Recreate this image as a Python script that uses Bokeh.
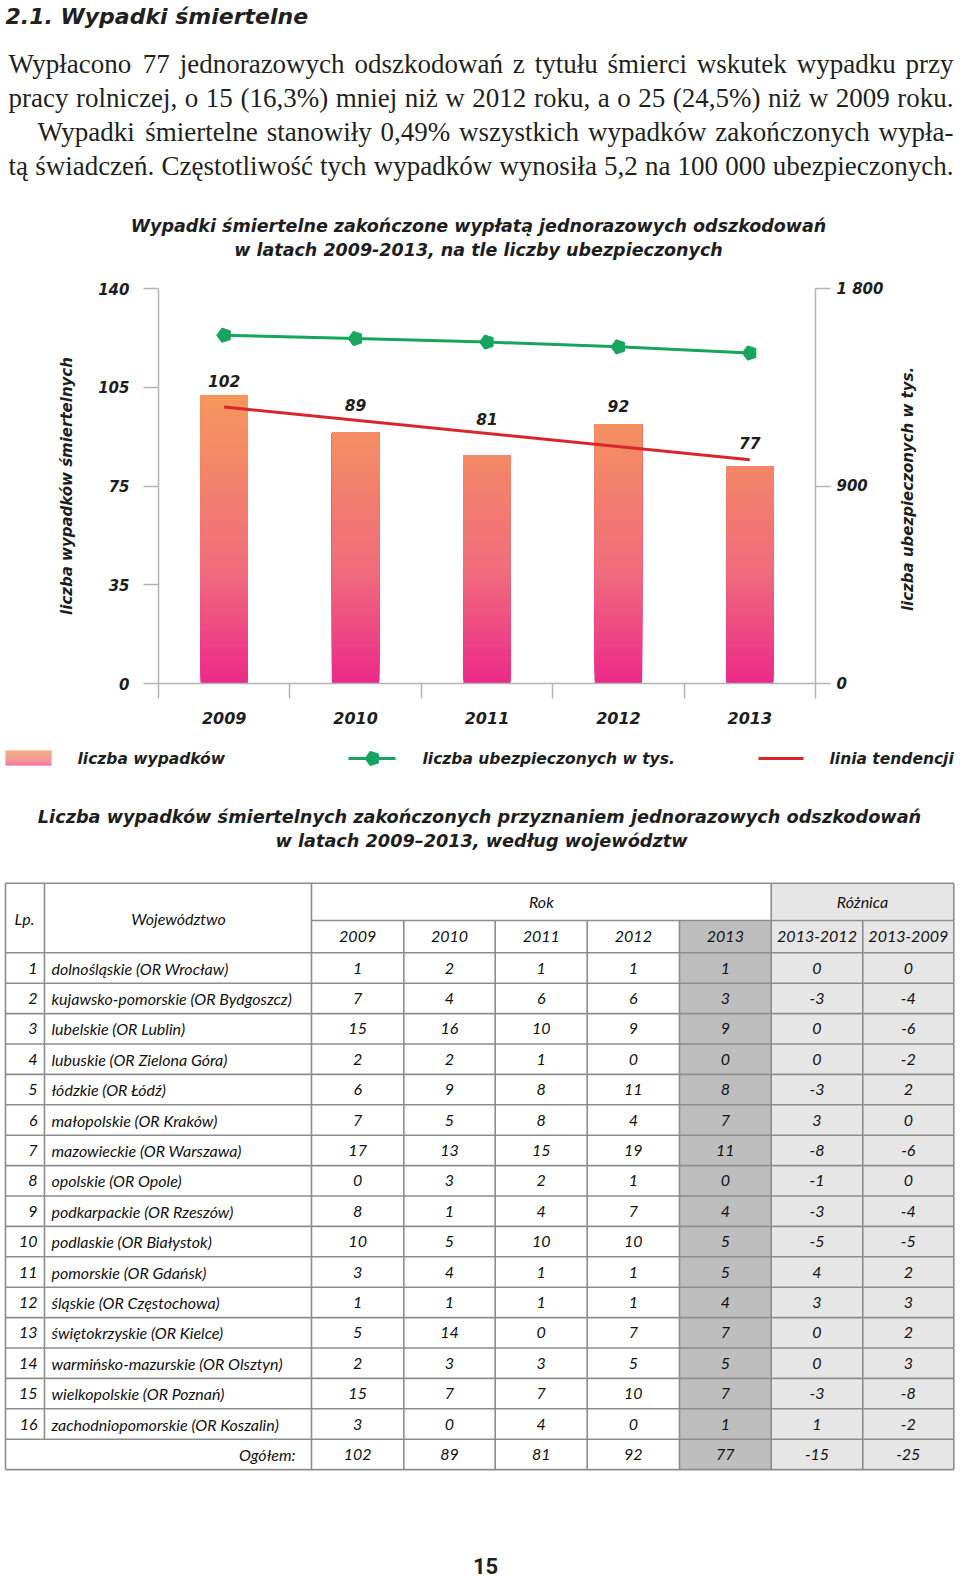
import math
from bokeh.plotting import figure
from bokeh.models import Range1d, LinearAxis, FixedTicker
from bokeh.layouts import column
from bokeh.core.properties import value
from bokeh.embed import file_html
from bokeh.resources import INLINE

# ---------------- data ----------------
years = [2009, 2010, 2011, 2012, 2013]
accidents = [102, 89, 81, 92, 77]
insured_thousands = [1587, 1572, 1556, 1534, 1506]
trend_years = [2009, 2013]
trend_values = [98.0, 79.3]
left_ticks = [0, 35, 70, 105, 140]
left_tick_labels = ["0", "35", "75", "105", "140"]
right_ticks = [0, 900, 1800]
right_tick_labels = ["0", "900", "1 800"]

provinces = [
    "dolnośląskie (OR Wrocław)", "kujawsko-pomorskie (OR Bydgoszcz)", "lubelskie (OR Lublin)",
    "lubuskie (OR Zielona Góra)", "łódzkie (OR Łódź)", "małopolskie (OR Kraków)",
    "mazowieckie (OR Warszawa)", "opolskie (OR Opole)", "podkarpackie (OR Rzeszów)",
    "podlaskie (OR Białystok)", "pomorskie (OR Gdańsk)", "śląskie (OR Częstochowa)",
    "świętokrzyskie (OR Kielce)", "warmińsko-mazurskie (OR Olsztyn)", "wielkopolskie (OR Poznań)",
    "zachodniopomorskie (OR Koszalin)",
]
v2009 = [1, 7, 15, 2, 6, 7, 17, 0, 8, 10, 3, 1, 5, 2, 15, 3]
v2010 = [2, 4, 16, 2, 9, 5, 13, 3, 1, 5, 4, 1, 14, 3, 7, 0]
v2011 = [1, 6, 10, 1, 8, 8, 15, 2, 4, 10, 1, 1, 0, 3, 7, 4]
v2012 = [1, 6, 9, 0, 11, 4, 19, 1, 7, 10, 1, 1, 7, 5, 10, 0]
v2013 = [1, 3, 9, 0, 8, 7, 11, 0, 4, 5, 5, 4, 7, 5, 7, 1]
diff_2013_2012 = [0, -3, 0, 0, -3, 3, -8, -1, -3, -5, 4, 3, 0, 0, -3, 1]
diff_2013_2009 = [0, -4, -6, -2, 2, 0, -6, 0, -4, -5, 2, 3, 2, 3, -8, -2]
totals = [102, 89, 81, 92, 77, -15, -25]
table_col_headers = ["2009", "2010", "2011", "2012", "2013", "2013-2012", "2013-2009"]

heading = "2.1. Wypadki śmiertelne"
paragraph_lines = [
    "Wypłacono 77 jednorazowych odszkodowań z tytułu śmierci wskutek wypadku przy",
    "pracy rolniczej, o 15 (16,3%) mniej niż w 2012 roku, a o 25 (24,5%) niż w 2009 roku.",
    "Wypadki śmiertelne stanowiły 0,49% wszystkich wypadków zakończonych wypła-",
    "tą świadczeń. Częstotliwość tych wypadków wynosiła 5,2 na 100 000 ubezpieczonych.",
]
chart_title = ["Wypadki śmiertelne zakończone wypłatą jednorazowych odszkodowań",
               "w latach 2009-2013, na tle liczby ubezpieczonych"]
left_axis_title = "liczba wypadków śmiertelnych"
right_axis_title = "liczba ubezpieczonych w tys."
table_title = ["Liczba wypadków śmiertelnych zakończonych przyznaniem jednorazowych odszkodowań",
               "w latach 2009–2013, według województw"]
legend_labels = ["liczba wypadków", "liczba ubezpieczonych w tys.", "linia tendencji"]
page_number = "15"

# ---------------- styles ----------------
W = 960
SANS = "DejaVu Sans"
TXT = "#1e1e1e"
GREEN = "#17a55e"
RED = "#d8262b"
AXIS = "#b4b4b4"
GRID_T = "#8d8d8d"
DARK_CELL = "#bebebf"
LIGHT_CELL = "#e6e6e7"
STOPS = [(0, (236, 41, 138)), (40, (240, 108, 124)), (105, (246, 153, 90))]


def grad(v):
    for (a, ca), (b, cb) in zip(STOPS[:-1], STOPS[1:]):
        if v <= b:
            t = max(0.0, (v - a) / (b - a))
            c = [round(ca[i] + (cb[i] - ca[i]) * t) for i in range(3)]
            return "#%02x%02x%02x" % tuple(c)
    return "#%02x%02x%02x" % STOPS[-1][1]


def no_align(p):
    try:
        p.frame_align = False
    except Exception:
        pass


def base_fig(h, x_range, y_range):
    p = figure(width=W, height=h, x_range=x_range, y_range=y_range,
               output_backend="svg", toolbar_location=None, title=None,
               x_axis_location=None, y_axis_location=None,
               min_border=0, min_border_left=0, min_border_right=0,
               min_border_top=0, min_border_bottom=0)
    p.xgrid.visible = False
    p.ygrid.visible = False
    p.outline_line_color = None
    p.background_fill_color = "white"
    p.border_fill_color = "white"
    no_align(p)
    return p


def blank(h):
    return base_fig(h, Range1d(0, W), Range1d(h, 0))


def txt(p, x, y, s, size, font=SANS, style="bold italic", align="left",
        baseline="middle", color=TXT, **kw):
    p.text(x=[x], y=[y], text=[s], text_font=value(font), text_font_style=style,
           text_font_size=size, text_align=align, text_baseline=baseline, text_color=color, **kw)


def pentagons(p, xs, ys, r, color, **kw):
    try:
        p.ngon(x=xs, y=ys, radius=r, radius_units="screen", n=5, angle=math.pi / 2,
               fill_color=color, line_color=color, **kw)
    except Exception:
        p.scatter(x=xs, y=ys, marker="hex", size=2 * r, fill_color=color,
                  line_color=color, **kw)


# Times-like advance widths (1/1000 em) for justification
TW = {" ": 250, "%": 833, "(": 333, ")": 333, ",": 250, "-": 333, ".": 250, ":": 278,
      "W": 944, "C": 667, "P": 556,
      "a": 444, "b": 500, "c": 444, "d": 500, "e": 444, "f": 333, "g": 500, "h": 500,
      "i": 278, "j": 278, "k": 500, "l": 278, "m": 778, "n": 500, "o": 500, "p": 500,
      "q": 500, "r": 333, "s": 389, "t": 278, "u": 500, "v": 500, "w": 722, "x": 500,
      "y": 500, "z": 444}
PL = {"ą": "a", "ć": "c", "ę": "e", "ł": "l", "ń": "n", "ó": "o", "ś": "s", "ź": "z", "ż": "z"}


def word_width(w, size):
    tot = 0
    for ch in w:
        ch = PL.get(ch, ch)
        tot += 500 if ch.isdigit() else TW.get(ch, 500)
    return tot * size / 1000.0


# ---------------- figure A: heading + paragraph + chart title ----------------
HA = 262
pa = blank(HA)
txt(pa, 5, 16, heading, "22px", color="#231f20")

BODY_SIZE = 27
line_specs = [(8, 953, 63.5), (8, 953, 97.5), (37, 953, 131.5), (8, 953, 165.5)]
for line, (xl, xr, yc) in zip(paragraph_lines, line_specs):
    words = line.split(" ")
    widths = [word_width(w, BODY_SIZE) for w in words]
    gap = (xr - xl - sum(widths)) / (len(words) - 1)
    xs, aligns = [], []
    x = xl
    for i, w in enumerate(words):
        if i == len(words) - 1:
            xs.append(xr)
            aligns.append("right")
        else:
            xs.append(x)
            aligns.append("left")
        x += widths[i] + gap
    pa.text(x=xs, y=[yc] * len(words), text=words, text_font=value("Liberation Serif"),
            text_font_size="%dpx" % BODY_SIZE, text_align=aligns, text_baseline="middle",
            text_color="#231f20")

txt(pa, 478, 225.5, chart_title[0], "17.5px", align="center")
txt(pa, 478, 249.5, chart_title[1], "17.5px", align="center")

# ---------------- figure B: chart ----------------
HB = 478
AX_L, AX_R = 158, 815           # pixel columns of the two value axes
AX_TOP, AX_BOT = 26, 421        # pixel rows of the value-axis ends inside figure B
YEAR_LO, YEAR_HI = years[0] - 0.5, years[-1] + 0.5
LMAX, RMAX = left_ticks[-1], right_ticks[-1]
ppx = (AX_R - AX_L) / (YEAR_HI - YEAR_LO)
ppy = (AX_BOT - AX_TOP) / LMAX
y_lo, y_hi = -(HB - AX_BOT) / ppy, LMAX + AX_TOP / ppy
pb = base_fig(HB, Range1d(YEAR_LO - AX_L / ppx, YEAR_HI + (W - AX_R) / ppx), Range1d(y_lo, y_hi))
pb.extra_y_ranges = {"ins": Range1d(y_lo * RMAX / LMAX, y_hi * RMAX / LMAX)}


def style_axis(ax, size):
    ax.axis_line_color = AXIS
    ax.axis_line_width = 1.5
    ax.major_tick_line_color = AXIS
    ax.major_tick_line_width = 1.5
    ax.minor_tick_line_color = AXIS
    ax.minor_tick_line_width = 1.5
    ax.major_label_text_font = SANS
    ax.major_label_text_font_style = "bold italic"
    ax.major_label_text_font_size = size
    ax.major_label_text_color = TXT
    ax.axis_label_text_font = SANS
    ax.axis_label_text_font_style = "bold italic"
    ax.axis_label_text_font_size = "15px"
    ax.axis_label_text_color = TXT
    ax.minor_tick_in = 0
    ax.major_tick_in = 0


bx = LinearAxis(bounds=(YEAR_LO, YEAR_HI), fixed_location=0)
style_axis(bx, "16px")
bx.ticker = FixedTicker(ticks=years, minor_ticks=[y - 0.5 for y in years] + [YEAR_HI])
bx.major_label_overrides = {y: str(y) for y in years}
bx.major_tick_out = 0
bx.minor_tick_out = 15
bx.major_label_standoff = 13
pb.add_layout(bx, "below")

ly = LinearAxis(fixed_location=YEAR_LO, bounds=(0, LMAX))
style_axis(ly, "15px")
ly.ticker = FixedTicker(ticks=left_ticks)
ly.major_label_overrides = {t: s for t, s in zip(left_ticks, left_tick_labels)}
ly.major_tick_out = 15
ly.minor_tick_out = 0
ly.major_label_standoff = 14
ly.axis_label = left_axis_title
ly.axis_label_standoff = 19
pb.add_layout(ly, "left")

ry = LinearAxis(y_range_name="ins", fixed_location=YEAR_HI, bounds=(0, RMAX))
style_axis(ry, "15px")
ry.ticker = FixedTicker(ticks=right_ticks)
ry.major_label_overrides = {t: s for t, s in zip(right_ticks, right_tick_labels)}
ry.major_tick_out = 15
ry.minor_tick_out = 0
ry.major_label_standoff = 6
pb.add_layout(ry, "right")

# right axis title, reading upward
txt(pb, YEAR_HI, LMAX / 2, right_axis_title, "15px", align="center", angle=math.pi / 2,
    x_offset=92, y_offset=3)

# gradient bars: layered slices from each bar's data value
STEP = 1.0
bxs, bbs, bts, bcs = [], [], [], []
for yr, v in zip(years, accidents):
    k = 0.0
    while k < v:
        bxs.append(yr)
        bbs.append(k)
        bts.append(v)
        bcs.append(grad(k + STEP / 2))
        k += STEP
pb.vbar(x=bxs, bottom=bbs, top=bts, width=0.36, fill_color=bcs, line_color=None)

# insured line
pb.line(x=years, y=insured_thousands, y_range_name="ins", line_color=GREEN, line_width=3)
pentagons(pb, years, insured_thousands, 7.5, GREEN, y_range_name="ins")

# trend line
pb.line(x=trend_years, y=trend_values, line_color=RED, line_width=3)

# value labels
label_dy = [-15, -27, -36, -18, -23]
pb.text(x=years, y=accidents, text=[str(v) for v in accidents], y_offset=label_dy,
        text_font=value(SANS), text_font_style="bold italic", text_font_size="15.5px",
        text_align="center", text_baseline="middle", text_color=TXT)

# ---------------- figure C: legend + table + page number ----------------
HC = 837
pc = blank(HC)

# legend
LY = 18
sw_n = 15
pc.quad(left=[5] * sw_n, right=[51] * sw_n, top=[10 + i for i in range(sw_n)],
        bottom=[11 + i for i in range(sw_n)],
        fill_color=[grad(100 - 80 * i / (sw_n - 1)) for i in range(sw_n)], line_color=None)
txt(pc, 77, LY, legend_labels[0], "15.5px")
pc.line(x=[348, 395], y=[LY, LY], line_color=GREEN, line_width=3)
pentagons(pc, [372], [LY], 7.5, GREEN)
txt(pc, 422, LY, legend_labels[1], "15.5px")
pc.line(x=[758, 803], y=[LY, LY], line_color=RED, line_width=3)
txt(pc, 829, LY, legend_labels[2], "15.5px")

# table title
txt(pc, 479, 76.7, table_title[0], "17.7px", align="center")
txt(pc, 481, 100.7, table_title[1], "17.7px", align="center")

# table geometry
XL, XR = 5, 953.3
X_LP, X_WOJ = 44, 311
col_b = [311, 403.3, 494.7, 586.7, 679, 770.7, 862.3, 953.3]
Y0, Y1, Y2, RH = 142.7, 180.0, 212.3, 30.4
n_rows = len(provinces)
YB = Y2 + (n_rows + 1) * RH

# cell fills
pc.quad(left=[col_b[4]], right=[col_b[5]], top=[Y1], bottom=[YB], fill_color=DARK_CELL, line_color=None)
pc.quad(left=[col_b[5]], right=[col_b[7]], top=[Y0], bottom=[YB], fill_color=LIGHT_CELL, line_color=None)

# grid lines
hx0, hx1, hy = [], [], []
for yv, x0 in [(Y0, XL), (Y1, X_WOJ), (Y2, XL)]:
    hx0.append(x0); hx1.append(XR); hy.append(yv)
for r in range(1, n_rows + 2):
    hx0.append(XL); hx1.append(XR); hy.append(Y2 + r * RH)
pc.segment(x0=hx0, x1=hx1, y0=hy, y1=hy, line_color=GRID_T, line_width=1.6)
vx, vy0, vy1 = [], [], []
for xv, y0, y1 in [(XL, Y0, YB), (XR, Y0, YB), (X_LP, Y0, Y2 + n_rows * RH), (X_WOJ, Y0, YB),
                   (col_b[1], Y1, YB), (col_b[2], Y1, YB), (col_b[3], Y1, YB), (col_b[4], Y1, YB),
                   (col_b[5], Y0, YB), (col_b[6], Y1, YB)]:
    vx.append(xv); vy0.append(y0); vy1.append(y1)
pc.segment(x0=vx, x1=vx, y0=vy0, y1=vy1, line_color=GRID_T, line_width=1.6)

TF = "Lato"
TS = "16px"
TC = "#111111"
hmid = (Y0 + Y2) / 2
txt(pc, 24, hmid, "Lp.", TS, font=TF, style="italic", align="center", color=TC)
txt(pc, 178, hmid, "Województwo", TS, font=TF, style="italic", align="center", color=TC)
txt(pc, (col_b[0] + col_b[5]) / 2, (Y0 + Y1) / 2, "Rok", TS, font=TF, style="italic",
    align="center", color=TC)
txt(pc, (col_b[5] + col_b[7]) / 2, (Y0 + Y1) / 2, "Różnica", TS, font=TF, style="italic",
    align="center", color=TC)
centers = [(col_b[i] + col_b[i + 1]) / 2 for i in range(7)]
pc.text(x=centers, y=[(Y1 + Y2) / 2] * 7, text=table_col_headers, text_font=value(TF),
        text_font_style="italic", text_font_size=TS, text_align="center",
        text_baseline="middle", text_color=TC)

row_y = [Y2 + (r + 0.5) * RH for r in range(n_rows)]
pc.text(x=[37] * n_rows, y=row_y, text=[str(i + 1) for i in range(n_rows)], text_font=value(TF),
        text_font_style="italic", text_font_size=TS, text_align="right",
        text_baseline="middle", text_color=TC)
pc.text(x=[51] * n_rows, y=row_y, text=provinces, text_font=value(TF),
        text_font_style="italic", text_font_size=TS, text_align="left",
        text_baseline="middle", text_color=TC)
for ci, col in enumerate([v2009, v2010, v2011, v2012, v2013, diff_2013_2012, diff_2013_2009]):
    pc.text(x=[centers[ci]] * n_rows, y=row_y, text=[str(v) for v in col], text_font=value(TF),
            text_font_style="italic", text_font_size=TS, text_align="center",
            text_baseline="middle", text_color=TC)
ty = Y2 + (n_rows + 0.5) * RH
txt(pc, 295, ty, "Ogółem:", TS, font=TF, style="italic", align="right", color=TC)
pc.text(x=centers, y=[ty] * 7, text=[str(v) for v in totals], text_font=value(TF),
        text_font_style="italic", text_font_size=TS, text_align="center",
        text_baseline="middle", text_color=TC)

txt(pc, 485, 825, page_number, "22px", font="Roboto", style="bold",
    align="center", color="#231f20")

layout = column(pa, pb, pc)
open("out.html", "w").write(file_html(layout, INLINE))
